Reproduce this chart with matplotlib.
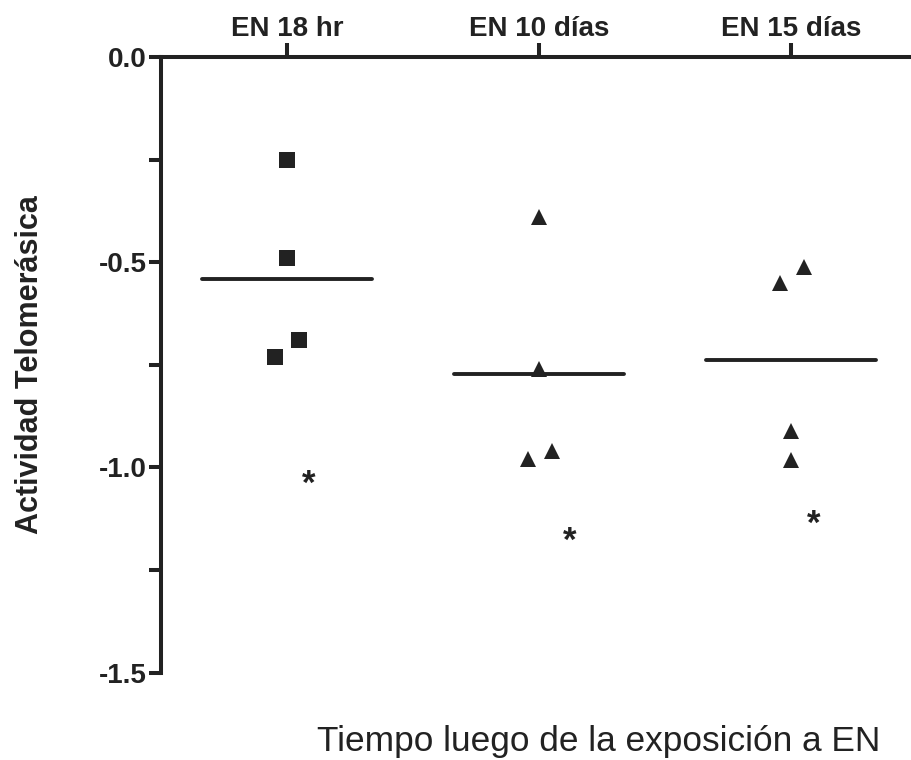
import matplotlib
matplotlib.use("Agg")
import matplotlib.pyplot as plt
import numpy as np

plt.rcParams['font.family'] = ['Liberation Sans', 'DejaVu Sans']

categories = ["EN 18 hr", "EN 10 días", "EN 15 días"]
group_values = [
    [-0.251, -0.490, -0.690, -0.731],
    [-0.390, -0.760, -0.980, -0.961],
    [-0.511, -0.550, -0.911, -0.981],
]
group_offsets = [
    [0.0, 0.0, 0.046, -0.048],
    [0.0, 0.0, -0.042, 0.050],
    [0.050, -0.042, 0.0, 0.0],
]
group_markers = ['s', '^', '^']
star_x = [1.087, 2.12, 3.09]
star_y = [-1.032, -1.170, -1.129]
yticks = [0.0, -0.5, -1.0, -1.5]
yticklabels = ["0.0", "-0.5", "-1.0", "-1.5"]

color = '#222222'

fig = plt.figure(figsize=(9.12, 7.6), dpi=100)
ax = fig.add_axes([161/912, 1 - 672.7/760, 1 - 161/912, (672.7 - 57)/760])

xpos = np.arange(1, len(categories) + 1)
for i, (vals, offs, mk) in enumerate(zip(group_values, group_offsets, group_markers)):
    xs = xpos[i] + np.array(offs)
    ms = 12 if mk == 's' else 11.5
    ax.plot(xs, vals, linestyle='none', marker=mk, markersize=ms,
            color=color, markeredgewidth=0, zorder=3)
    m = np.mean(vals)
    ax.plot([xpos[i] - 0.337, xpos[i] + 0.337], [m, m], color=color,
            linewidth=2.8, solid_capstyle='round', zorder=2)
    ax.annotate('*', xy=(star_x[i], star_y[i]), xytext=(0, -3),
                textcoords='offset points', ha='center', va='center',
                fontsize=25, fontweight='bold', color=color)

ax.set_xlim(0.5, 3.48)
ax.set_ylim(-1.5, 0.0)

for s in ['right', 'bottom']:
    ax.spines[s].set_visible(False)
for s in ['left', 'top']:
    ax.spines[s].set_linewidth(2.9)
    ax.spines[s].set_color(color)
    ax.spines[s].set_capstyle('projecting')

ax.xaxis.set_ticks_position('top')
ax.set_xticks(xpos)
ax.set_xticklabels(categories, fontsize=20, fontweight='bold', color=color)
ax.tick_params(axis='x', direction='out', length=10, width=2.9, color=color, pad=0.5)

ax.set_yticks(yticks)
ax.set_yticklabels(yticklabels, fontsize=20, fontweight='bold', color=color)
ax.set_yticks([-0.25, -0.75, -1.25], minor=True)
ax.tick_params(axis='y', which='both', direction='out', length=9, width=2.9,
               color=color, pad=1)

fig.text(30/912, 1 - 365/760, 'Actividad Telomerásica', rotation=90,
         ha='center', va='center', fontsize=22, fontweight='bold', color=color)
fig.text(599/912, 1 - 751/760, 'Tiempo luego de la exposición a EN',
         ha='center', va='baseline', fontsize=25.4, color=color)

fig.savefig('out.png', dpi=100, facecolor='white')
